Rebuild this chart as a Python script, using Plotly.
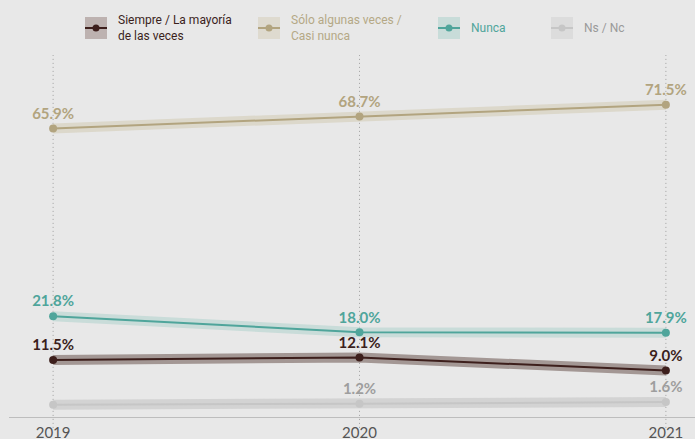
import plotly.graph_objects as go

years = [2019, 2020, 2021]
series_names = ["Siempre / La mayoría<br>de las veces", "Sólo algunas veces /<br>Casi nunca", "Nunca", "Ns / Nc"]
siempre = [11.5, 12.1, 9.0]
solo = [65.9, 68.7, 71.5]
nunca = [21.8, 18.0, 17.9]
nsnc = [1.0, 1.2, 1.6]
nsnc_show_label = [False, True, True]

line_colors = ["#3d1f1c", "#b2a47f", "#4fa59b", "#c6c6c6"]
band_colors = ["#a39794", "#dcd8cb", "#c9dcd9", "#d3d3d3"]
swatch_colors = ["#bdb2b0", "#dedacf", "#c8dcd9", "#dcdcdc"]
label_colors = ["#3b1f1c", "#b2a47f", "#4fa59b", "#9e9e9e"]
legend_text_colors = ["#3b1f1c", "#b5a886", "#4fa59b", "#9a9a9a"]

BG = "#e8e8e8"
W, H = 695, 439
ML, MR, MT, MB = 9, 0, 55, 22
PW, PH = W - ML - MR, H - MT - MB

def xp(px):
    return (px - ML) / PW

def yp(py):
    return (H - MB - py) / PH

fig = go.Figure()

data = [
    (nsnc, [f"{v:.1f}%" if s else "" for v, s in zip(nsnc, nsnc_show_label)], 3),
    (solo, [f"{v:.1f}%" for v in solo], 1),
    (nunca, [f"{v:.1f}%" for v in nunca], 2),
    (siempre, [f"{v:.1f}%" for v in siempre], 0),
]

for vals, texts, idx in data:
    fig.add_trace(go.Scatter(
        x=years, y=vals, mode="lines",
        line=dict(color=band_colors[idx], width=10),
        hoverinfo="skip", showlegend=False,
    ))
for vals, texts, idx in data:
    fig.add_trace(go.Scatter(
        x=years, y=vals, mode="lines+markers+text",
        line=dict(color=line_colors[idx], width=2),
        marker=dict(color=line_colors[idx], size=8),
        text=texts, textposition="top center",
        textfont=dict(family="Lato", size=15, color=label_colors[idx], weight="bold"),
        cliponaxis=False, showlegend=False,
        name=series_names[idx].replace("<br>", " "),
    ))

# vertical dotted guides at each year
for yr in years:
    fig.add_shape(type="line", xref="x", yref="paper", x0=yr, x1=yr, y0=-0.03, y1=1,
                  line=dict(color="#a0a0a0", width=1, dash="1px,3px"), layer="below")

# custom legend
sw_x = [85, 258, 438, 551]
sw = 22
cy = 28
for i, name in enumerate(series_names):
    x0 = sw_x[i]
    fig.add_shape(type="rect", xref="paper", yref="paper",
                  x0=xp(x0), x1=xp(x0 + sw), y0=yp(cy - sw / 2), y1=yp(cy + sw / 2),
                  fillcolor=swatch_colors[i], line=dict(width=0))
    fig.add_shape(type="line", xref="paper", yref="paper",
                  x0=xp(x0), x1=xp(x0 + sw), y0=yp(cy), y1=yp(cy),
                  line=dict(color=line_colors[i], width=2))
    fig.add_shape(type="circle", xref="paper", yref="paper",
                  x0=xp(x0 + sw / 2 - 3.5), x1=xp(x0 + sw / 2 + 3.5),
                  y0=yp(cy - 3.5), y1=yp(cy + 3.5),
                  fillcolor=line_colors[i], line=dict(width=0))
    fig.add_annotation(xref="paper", yref="paper", x=xp(x0 + sw + 9), y=yp(cy),
                       xanchor="left", yanchor="middle", align="left",
                       text=name, showarrow=False,
                       font=dict(family="Roboto", size=12, color=legend_text_colors[i]))

fig.update_layout(
    width=W, height=H,
    margin=dict(l=ML, r=MR, t=MT, b=MB, autoexpand=False),
    paper_bgcolor=BG, plot_bgcolor=BG,
    showlegend=False,
    xaxis=dict(range=[2018.856, 2021.095], tickvals=years, ticktext=[str(y) for y in years],
               showgrid=False, zeroline=False, showline=True, linecolor="#bdbdbd", linewidth=1,
               tickfont=dict(family="Lato", size=15, color="#555555"), ticklabelstandoff=2,
               automargin=False, fixedrange=True),
    yaxis=dict(range=[-1.9, 83.17], showgrid=False, zeroline=False, showticklabels=False,
               automargin=False, fixedrange=True),
)

fig.write_html("out.html")
